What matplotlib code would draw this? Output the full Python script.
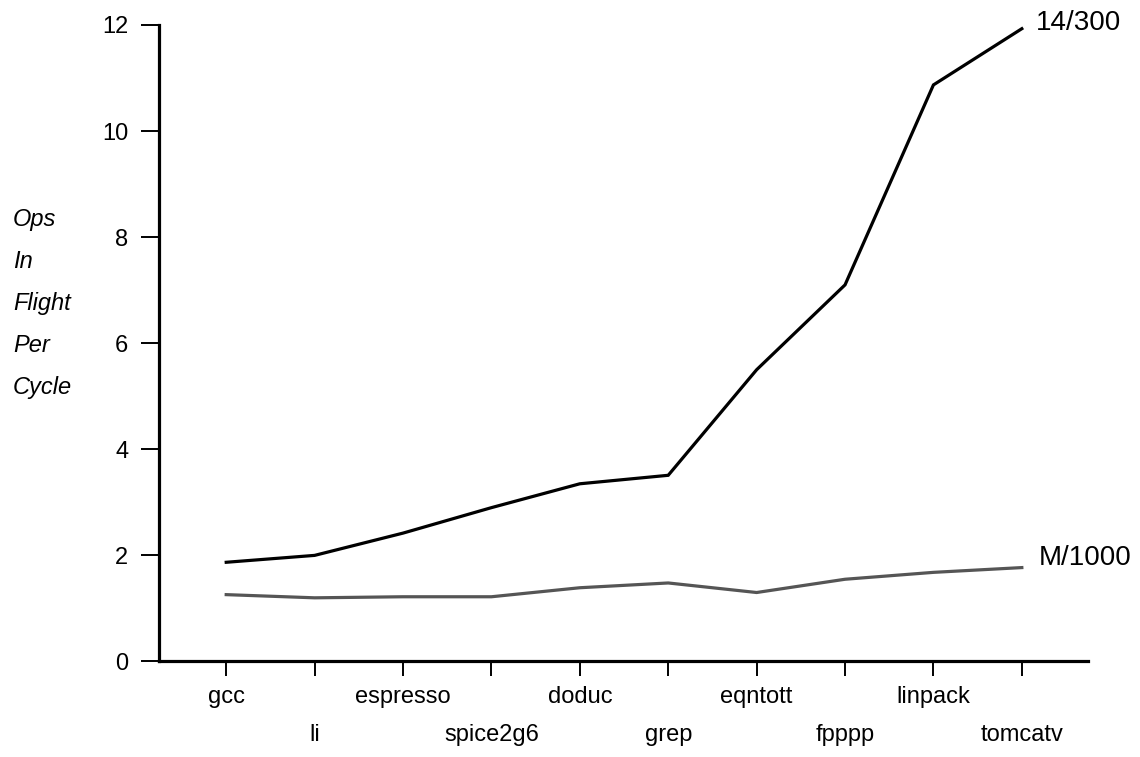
import matplotlib.pyplot as plt

plt.rcParams['font.family'] = ['Liberation Sans', 'DejaVu Sans']

# Benchmarks along the x axis
benchmarks = ["gcc", "li", "espresso", "spice2g6", "doduc",
              "grep", "eqntott", "fpppp", "linpack", "tomcatv"]

# Ops in flight per cycle
ops_14_300 = [1.87, 2.00, 2.42, 2.90, 3.35, 3.51, 5.50, 7.10, 10.87, 11.93]
ops_m_1000 = [1.26, 1.20, 1.22, 1.22, 1.39, 1.48, 1.30, 1.55, 1.68, 1.77]

series_names = ["14/300", "M/1000"]
y_ticks = [0, 2, 4, 6, 8, 10, 12]

fig = plt.figure(figsize=(11.4, 7.57), dpi=100)
ax = fig.add_axes([0.1395, 0.1262, 0.815, 0.8408])

x = list(range(len(benchmarks)))
ax.plot(x, ops_14_300, color="black", linewidth=2.3, solid_joinstyle="miter")
ax.plot(x, ops_m_1000, color="#555555", linewidth=2.3, solid_joinstyle="miter")

# Series labels at the end of each line
ax.annotate(series_names[0], (x[-1], ops_14_300[-1]), xytext=(10, 4),
            textcoords="offset points", va="center", ha="left", fontsize=20)
ax.annotate(series_names[1], (x[-1], ops_m_1000[-1]), xytext=(12, 7),
            textcoords="offset points", va="center", ha="left", fontsize=20)

ax.set_xlim(-0.76, 9.75)
ax.set_ylim(0, 12)

ax.spines["top"].set_visible(False)
ax.spines["right"].set_visible(False)
for side in ["left", "bottom"]:
    ax.spines[side].set_linewidth(2.3)

ax.set_yticks(y_ticks)
ax.set_yticklabels([str(v) for v in y_ticks])
ax.tick_params(axis="y", direction="out", length=13, width=1.4, pad=9, labelsize=17)

ax.set_xticks(x)
ax.set_xticklabels(benchmarks)
ax.tick_params(axis="x", direction="out", length=11, width=1.4, pad=7, labelsize=17)
# Stagger the benchmark names on two rows
for i, tick in enumerate(ax.xaxis.get_major_ticks()):
    if i % 2 == 1:
        tick.set_pad(34)

# Stacked italic y label
fig.text(13 / 1140, 1 - 208 / 757, "Ops\nIn\nFlight\nPer\nCycle", ha="left", va="top",
         fontsize=17, style="italic", linespacing=2.06)

fig.savefig("out.png", dpi=100)
